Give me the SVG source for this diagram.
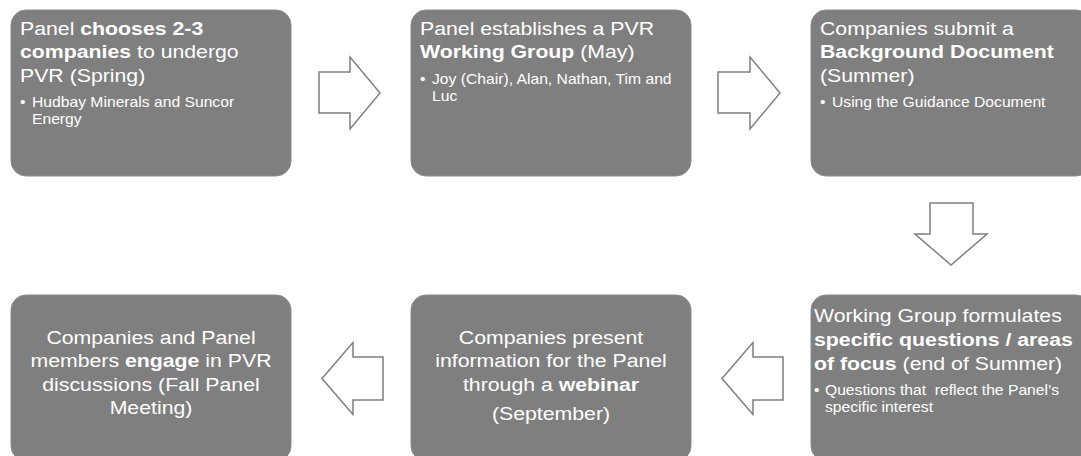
<svg xmlns="http://www.w3.org/2000/svg" width="1081" height="456" viewBox="0 0 1081 456">
<style>
.box{fill:#7f7f7f;stroke:#8c8c8c;stroke-width:1}
.arr{fill:#ffffff;stroke:#7f7f7f;stroke-width:1.5;stroke-linejoin:miter}
text{font-family:"Liberation Sans",Arial,sans-serif;fill:#ffffff}
.t{font-size:19px}
.s{font-size:14px}
.b{font-weight:bold}
.c{text-anchor:middle}
</style>
<rect width="1081" height="456" fill="#ffffff"/>
<g id="connectors">
<polygon class="arr" points="319,72 350,72 350,57 380,93 350,129 350,113 319,113"/>
<polygon class="arr" points="718,72 750,72 750,57 780,93 750,129 750,113 718,113"/>
<polygon class="arr" points="930,203 973,203 973,234 987,234 951,265 915,234 930,234"/>
<polygon class="arr" points="783,357 753,357 753,342.5 722,378.5 753,414.5 753,400 783,400"/>
<polygon class="arr" points="383,357 353,357 353,342.5 322,378.5 353,414.5 353,400 383,400"/>
</g>
<g id="node1">
<rect class="box" x="11" y="10" width="280" height="166" rx="15"/>
<g transform="matrix(1.12 0 0 1 20 0)">
<text class="t" y="35">Panel <tspan class="b">chooses 2-3</tspan></text>
<text class="t" y="58.5"><tspan class="b">companies</tspan> to undergo</text>
<text class="t" y="82">PVR (Spring)</text>
<text class="s" y="107">•<tspan x="10.7">Hudbay Minerals and Suncor</tspan></text>
<text class="s" x="10.7" y="124">Energy</text>
</g>
</g>
<g id="node2">
<rect class="box" x="411" y="10" width="280" height="166" rx="15"/>
<g transform="matrix(1.12 0 0 1 420 0)">
<text class="t" y="35">Panel establishes a PVR</text>
<text class="t" y="58.5"><tspan class="b">Working Group</tspan> (May)</text>
<text class="s" y="84">•<tspan x="10.7">Joy (Chair), Alan, Nathan, Tim and</tspan></text>
<text class="s" x="10.7" y="101">Luc</text>
</g>
</g>
<g id="node3">
<rect class="box" x="811" y="10" width="280" height="166" rx="15"/>
<g transform="matrix(1.12 0 0 1 820 0)">
<text class="t" y="35">Companies submit a</text>
<text class="t b" y="58.5">Background Document</text>
<text class="t" y="82">(Summer)</text>
<text class="s" y="107">•<tspan x="10.7">Using the Guidance Document</tspan></text>
</g>
</g>
<g id="node4">
<rect class="box" x="811" y="295" width="280" height="166" rx="15"/>
<g transform="matrix(1.12 0 0 1 814 0)">
<text class="t" y="322.5">Working Group formulates</text>
<text class="t" y="346.5"><tspan class="b">specific questions / areas</tspan></text>
<text class="t" y="370"><tspan class="b">of focus</tspan> (end of Summer)</text>
<text class="s" y="395.5">•<tspan x="9.8">Questions that&#160; reflect the Panel’s</tspan></text>
<text class="s" x="9.8" y="412">specific interest</text>
</g>
</g>
<g id="node5">
<rect class="box" x="411" y="295" width="280" height="166" rx="15"/>
<g transform="matrix(1.12 0 0 1 551 0)">
<text class="t c" y="344">Companies present</text>
<text class="t c" y="367.5">information for the Panel</text>
<text class="t c" y="391">through a <tspan class="b">webinar</tspan></text>
<text class="t c" y="420">(September)</text>
</g>
</g>
<g id="node6">
<rect class="box" x="11" y="295" width="280" height="166" rx="15"/>
<g transform="matrix(1.12 0 0 1 151 0)">
<text class="t c" y="344">Companies and Panel</text>
<text class="t c" y="367.5">members <tspan class="b">engage</tspan> in PVR</text>
<text class="t c" y="391">discussions (Fall Panel</text>
<text class="t c" y="414.5">Meeting)</text>
</g>
</g>
</svg>
